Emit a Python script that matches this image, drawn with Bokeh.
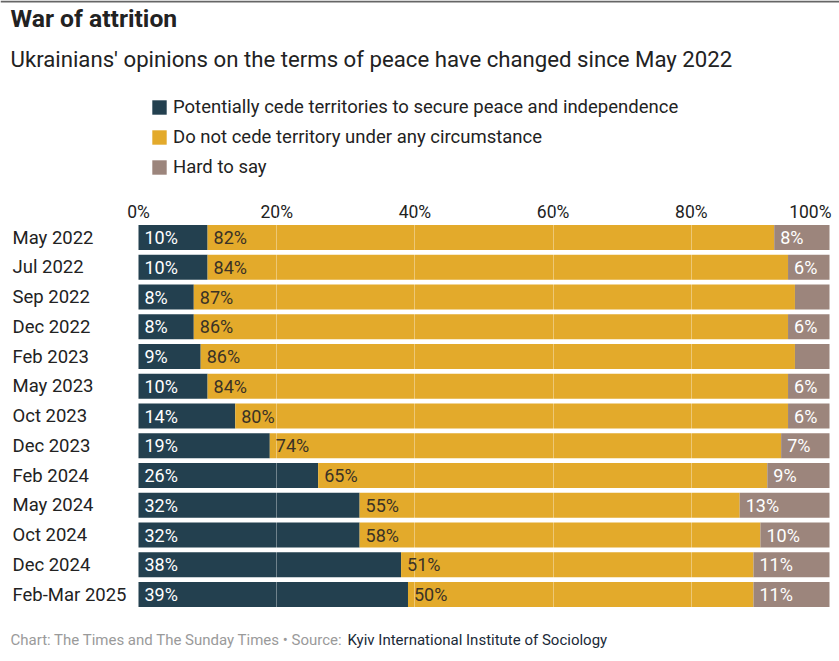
from bokeh.plotting import figure
from bokeh.models import ColumnDataSource, Range1d, FixedTicker, Label, BoxAnnotation
from bokeh.core.properties import value
from bokeh.embed import file_html
from bokeh.resources import INLINE

# ---------------- data ----------------
periods = ["May 2022", "Jul 2022", "Sep 2022", "Dec 2022", "Feb 2023", "May 2023",
           "Oct 2023", "Dec 2023", "Feb 2024", "May 2024", "Oct 2024", "Dec 2024",
           "Feb-Mar 2025"]
cede = [10, 10, 8, 8, 9, 10, 14, 19, 26, 32, 32, 38, 39]
no_cede = [82, 84, 87, 86, 86, 84, 80, 74, 65, 55, 58, 51, 50]
hard = [8, 6, 5, 6, 5, 6, 6, 7, 9, 13, 10, 11, 11]
series_names = ["Potentially cede territories to secure peace and independence",
                "Do not cede territory under any circumstance",
                "Hard to say"]
tick_values = [0, 20, 40, 60, 80, 100]
tick_labels = ["0%", "20%", "40%", "60%", "80%", "100%"]

colors = ["#23404f", "#e3aa2b", "#9c857c"]
FONT = "Roboto"

# ---------------- layout ----------------
W, H = 839, 661
LEFT_PX, RIGHT_PX = 138, 10
px_per = (W - LEFT_PX - RIGHT_PX) / 100.0
x_start = -LEFT_PX / px_per
x_end = 100 + RIGHT_PX / px_per
ROW0_PX, ROW_STEP = 237.0, 29.75          # canvas y of first row centre, row spacing
y_top = -ROW0_PX / ROW_STEP
y_bottom = (H - ROW0_PX) / ROW_STEP
TICK_PX = 211.0
y_tick = (TICK_PX - ROW0_PX) / ROW_STEP

rows = list(range(len(periods)))
src = ColumnDataSource(dict(
    row=rows, period=periods, cede=cede, no_cede=no_cede, hard=hard,
    start2=list(cede),
    start3=[c + n for c, n in zip(cede, no_cede)],
    zero=[0] * len(periods),
    lab1=[f"{v}%" if v >= 6 else "" for v in cede],
    lab2=[f"{v}%" if v >= 6 else "" for v in no_cede],
    lab3=[f"{v}%" if v >= 6 else "" for v in hard],
    xlab=[x_start] * len(periods),
))

p = figure(width=W, height=H, output_backend="svg", toolbar_location=None,
           x_range=Range1d(x_start, x_end),
           y_range=Range1d(y_bottom, y_top),
           min_border=0, min_border_left=0, min_border_right=0,
           min_border_top=0, min_border_bottom=0)
p.outline_line_color = None
p.background_fill_color = "white"
p.border_fill_color = "white"
p.xaxis.visible = False
p.yaxis.visible = False

rs = p.hbar_stack(["cede", "no_cede", "hard"], y="row", height=0.84, source=src,
                  color=colors, line_color=None, legend_label=series_names)

# grid on top of bars
p.ygrid.visible = False
p.xgrid.ticker = FixedTicker(ticks=tick_values[1:-1])
p.xgrid.grid_line_color = "white"
p.xgrid.grid_line_alpha = 0.35
p.xgrid.grid_line_width = 1
p.xgrid.level = "guide"

# tick labels along the top
tick_src = ColumnDataSource(dict(x=tick_values, y=[y_tick] * len(tick_values),
                                 t=tick_labels,
                                 a=["center"] * (len(tick_values) - 1) + ["right"],
                                 o=[0] * (len(tick_values) - 1) + [2]))
p.text(x="x", y="y", text="t", source=tick_src, text_align="a", x_offset="o",
       text_baseline="middle", text_font=value(FONT), text_font_size="17.5px",
       text_color="#222222")

# labels inside bars
common = dict(y="row", source=src, text_baseline="middle", text_align="left",
              text_font=value(FONT), text_font_size="18px", x_offset=6)
t1 = p.text(x="zero", text="lab1", text_color="white", **common)
t2 = p.text(x="start2", text="lab2", text_color="#3a3226", **common)
t3 = p.text(x="start3", text="lab3", text_color="white", **common)
for t in (t1, t2, t3):
    t.level = "annotation"

# category labels
p.text(x="xlab", y="row", text="period", source=src, x_offset=12,
       text_baseline="middle", text_align="left", text_font=value(FONT),
       text_font_size="18.5px", text_color="#222222")

# legend
def ys(canvas_y):
    return H - canvas_y

lg = p.legend[0]
lg.location = (150, ys(178))
lg.orientation = "vertical"
lg.glyph_width = 18
lg.glyph_height = 18
lg.label_height = 18
lg.spacing = 8
lg.label_standoff = 5
lg.padding = 0
lg.margin = 0
lg.border_line_color = None
lg.background_fill_alpha = 0
lg.label_text_font = FONT
lg.label_text_font_size = "18.5px"
lg.label_text_color = "#222222"
lg.label_text_baseline = "middle"

# titles
p.add_layout(Label(x=10, y=ys(18), x_units="screen", y_units="screen",
                   text="War of attrition", text_font=FONT, text_font_size="24.7px",
                   text_font_style="bold", text_color="#222222", text_baseline="middle"))
p.add_layout(Label(x=10, y=ys(58), x_units="screen", y_units="screen",
                   text="Ukrainians' opinions on the terms of peace have changed since May 2022",
                   text_font=FONT, text_font_size="22.2px", text_color="#222222",
                   text_baseline="middle"))

# footer
p.add_layout(Label(x=10, y=ys(639), x_units="screen", y_units="screen",
                   text="Chart: The Times and The Sunday Times \u2022 Source: ",
                   text_font=FONT, text_font_size="15px", text_color="#9a9a9a",
                   text_baseline="middle"))
p.add_layout(Label(x=347, y=ys(639), x_units="screen", y_units="screen",
                   text="Kyiv International Institute of Sociology",
                   text_font=FONT, text_font_size="15px", text_color="#1a2a38",
                   text_baseline="middle"))

# top rule
p.add_layout(BoxAnnotation(left=0, right=W, top=ys(0), bottom=ys(2),
                           left_units="screen", right_units="screen",
                           top_units="screen", bottom_units="screen",
                           fill_color="#666666", fill_alpha=1, line_color=None))

open("out.html", "w").write(file_html(p, INLINE))
